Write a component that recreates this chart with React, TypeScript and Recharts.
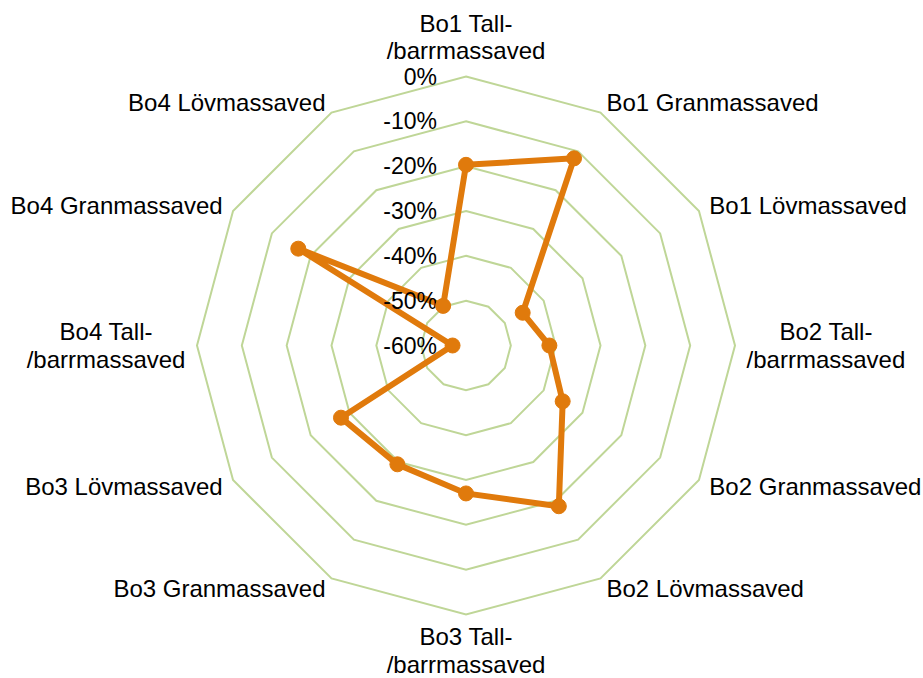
import { RadarChart, Radar, PolarGrid, PolarAngleAxis, PolarRadiusAxis } from 'recharts';

const categories = [
  'Bo1 Tall-\n/barrmassaved',
  'Bo1 Granmassaved',
  'Bo1 Lövmassaved',
  'Bo2 Tall-\n/barrmassaved',
  'Bo2 Granmassaved',
  'Bo2 Lövmassaved',
  'Bo3 Tall-\n/barrmassaved',
  'Bo3 Granmassaved',
  'Bo3 Lövmassaved',
  'Bo4 Tall-\n/barrmassaved',
  'Bo4 Granmassaved',
  'Bo4 Lövmassaved',
];

const values = [-19.7, -11.8, -45.4, -41.4, -35.1, -18.6, -27.0, -29.4, -27.8, -57.0, -16.8, -49.8];

const radiusTicks = [-60, -50, -40, -30, -20, -10, 0];

const data = categories.map((name, i) => ({ name, value: values[i] }));

const CX = 466;
const CY = 345.5;
const R = 269;
const FONT = '"Liberation Sans", Arial, sans-serif';
const LABEL_SIZE = 24;
const LINE_H = 27.5;

const AngleTick = (props: any) => {
  const { payload } = props;
  const a = (payload.coordinate * Math.PI) / 180;
  const cos = Math.cos(a);
  const sin = Math.sin(a);
  const px = CX + (R + 12) * cos;
  const py = CY - (R + 12) * sin;
  const lines = String(payload.value).split('\n');

  let anchor: 'start' | 'middle' | 'end' = 'middle';
  let x = px;
  if (cos > 0.01) anchor = 'start';
  else if (cos < -0.01) anchor = 'end';

  // multi-line labels at the sides are centred inside their box
  if (lines.length > 1 && anchor !== 'middle') {
    const w = Math.max(...lines.map((l) => l.length)) * 0.506 * LABEL_SIZE;
    x = anchor === 'start' ? px + w / 2 : px - w / 2;
    anchor = 'middle';
  }

  let firstY: number;
  if (sin > 0.99) firstY = py - 14 - (lines.length - 1) * LINE_H;
  else if (sin < -0.99) firstY = py + 10;
  else firstY = py - ((lines.length - 1) * LINE_H) / 2;

  return (
    <g>
      {lines.map((l, i) => (
        <text
          key={i}
          x={x}
          y={firstY + i * LINE_H}
          textAnchor={anchor}
          dominantBaseline="central"
          fontSize={LABEL_SIZE}
          fontFamily={FONT}
          fill="#000"
        >
          {l}
        </text>
      ))}
    </g>
  );
};

const RadiusTick = (props: any) => {
  const { x, y, payload } = props;
  return (
    <text
      x={x - 29}
      y={y}
      textAnchor="end"
      dominantBaseline="central"
      fontSize={23}
      fontFamily={FONT}
      fill="#000"
    >
      {payload.value}%
    </text>
  );
};

export default function App() {
  return (
    <div style={{ position: 'absolute', left: 0, top: 0, width: 923, height: 678, background: '#fff' }}>
      <RadarChart
        width={923}
        height={678}
        data={data}
        cx={CX}
        cy={CY}
        outerRadius={R}
        margin={{ top: 0, right: 0, bottom: 0, left: 0 }}
      >
        <PolarGrid gridType="polygon" radialLines={false} stroke="#BFD697" strokeWidth={2} />
        <PolarAngleAxis dataKey="name" tick={AngleTick} tickLine={false} axisLine={false} />
        <PolarRadiusAxis
          angle={90}
          domain={[-60, 0]}
          ticks={radiusTicks}
          tickCount={7}
          tick={RadiusTick}
          axisLine={false}
          tickLine={false}
        />
        <Radar
          dataKey="value"
          stroke="#E07A0C"
          strokeWidth={6}
          fill="none"
          fillOpacity={0}
          dot={{ r: 7.5, fill: '#E07A0C', stroke: '#E07A0C', strokeWidth: 1, fillOpacity: 1 }}
          isAnimationActive={false}
        />
      </RadarChart>
    </div>
  );
}
